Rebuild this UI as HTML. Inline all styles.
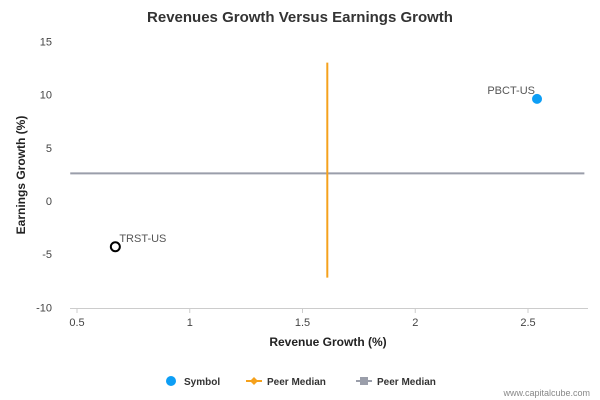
<!DOCTYPE html>
<html><head><meta charset="utf-8"><style>
body{margin:0;background:#fff;font-family:"Liberation Sans","DejaVu Sans",sans-serif;overflow:hidden}
</style></head><body>
<svg id="c" width="600" height="400" xmlns="http://www.w3.org/2000/svg" style="display:block">
<text x="300" y="22" text-anchor="middle" font-size="15" font-weight="bold" fill="#333">Revenues Growth Versus Earnings Growth</text>
<text x="328" y="346" text-anchor="middle" font-size="12" font-weight="bold" fill="#222">Revenue Growth (%)</text>
<text transform="translate(25,175) rotate(-90)" text-anchor="middle" font-size="12" font-weight="bold" fill="#222">Earnings Growth (%)</text>
<g id="axes"></g><g id="marks"></g>
<g>
<circle cx="171" cy="381" r="5" fill="#0d9ef5"/>
<text x="184" y="385" font-size="10" font-weight="bold" fill="#333">Symbol</text>
<line x1="246" y1="381" x2="262" y2="381" stroke="#f5a11c" stroke-width="2"/>
<path d="M254 377 L258 381 L254 385 L250 381Z" fill="#f5a11c"/>
<text x="267" y="385" font-size="10" font-weight="bold" fill="#333">Peer Median</text>
<line x1="356" y1="381" x2="372" y2="381" stroke="#9a9eaa" stroke-width="2"/>
<rect x="360" y="377" width="8" height="8" fill="#9a9eaa"/>
<text x="377" y="385" font-size="10" font-weight="bold" fill="#333">Peer Median</text>
</g>
<text x="590" y="396" text-anchor="end" font-size="9" fill="#888">www.capitalcube.com</text>
</svg>
<script>
const xTicks=[0.5,1,1.5,2,2.5];
const yTicks=[15,10,5,0,-5,-10];
const symbols=["PBCT-US","TRST-US"];
const symX=[2.54,0.67];
const symY=[9.6,-4.3];
const peerRevMedian=[1.61];
const peerRevRange=[-7.2,13];
const peerEarnMedian=[2.6];
const peerEarnRange=[0.47,2.75];
const X=a=>77+(a-0.5)*225.5, Y=b=>201-b*10.64;
const NS="http://www.w3.org/2000/svg";
function mk(p,t,a){const e=document.createElementNS(NS,t);for(const k in a)e.setAttribute(k,a[k]);p.appendChild(e);return e;}
const ax=document.getElementById('axes'), mg=document.getElementById('marks');
const xl=mk(ax,'line',{x1:70,x2:588,y1:308.5,y2:308.5,stroke:'#ccc'});


xTicks.forEach(tv=>{
 const t=mk(ax,'line',{x1:X(tv),x2:X(tv),y1:308,y2:313,stroke:'#ccc'});
 
 
 const l=mk(ax,'text',{x:X(tv),y:326,'text-anchor':'middle','font-size':11,fill:'#444'});l.textContent=tv;
 
 
});
yTicks.forEach(tv=>{
 const l=mk(ax,'text',{x:52,y:Y(tv)+4,'text-anchor':'end','font-size':11,fill:'#444'});l.textContent=tv;
 
 
});
const hLine=mk(mg,'line',{x1:X(peerEarnRange[0]),x2:X(peerEarnRange[1]),y1:Y(peerEarnMedian[0]),y2:Y(peerEarnMedian[0]),stroke:'#9a9eaa','stroke-width':2});


const vLine=mk(mg,'line',{x1:X(peerRevMedian[0]),x2:X(peerRevMedian[0]),y1:Y(peerRevRange[1]),y2:Y(peerRevRange[0]),stroke:'#f5a11c','stroke-width':2});


symbols.forEach((s,i)=>{
 const own=i===1;
 const c=mk(mg,'circle',{cx:X(symX[i]),cy:Y(symY[i]),r:own?4.5:5,fill:own?'#fff':'#0d9ef5',stroke:own?'#000':'none','stroke-width':2});
 
 
 const t=mk(mg,'text',{x:own?X(symX[i])+4:X(symX[i])-2,y:Y(symY[i])-5,'text-anchor':own?'start':'end','font-size':11,fill:'#555'});t.textContent=s;
 
 
});
</script>
</body></html>
